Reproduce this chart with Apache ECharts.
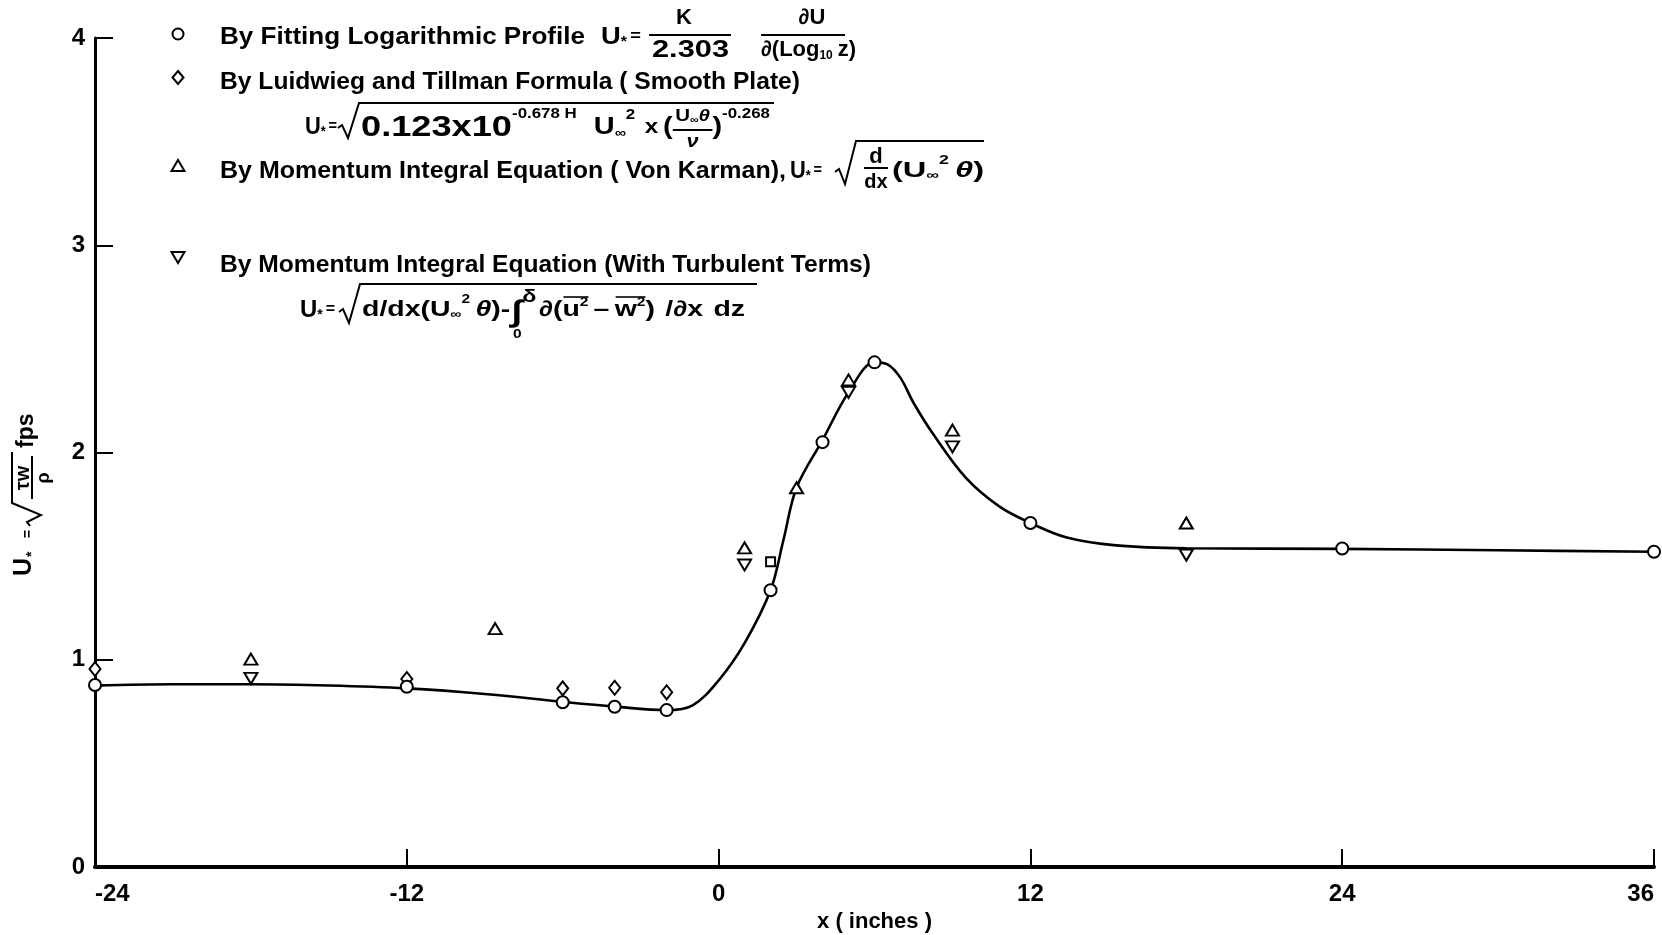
<!DOCTYPE html>
<html>
<head>
<meta charset="utf-8">
<script src="https://cdn.jsdelivr.net/npm/echarts@6/dist/echarts.min.js"></script>
<style>html,body{margin:0;padding:0;background:#fff;}#chart{width:1662px;height:935px;}</style>
</head>
<body>
<div id="chart"></div>
<script>
// ---------------- DATA ----------------
const xTicks = [-24, -12, 0, 12, 24, 36];
const yTicks = [0, 1, 2, 3, 4];

// smooth fitted curve
const curveX = [-24, -21, -18, -15, -12, -9, -6, -4, -2, -1, 0, 1, 2, 2.5, 3, 4, 5, 6, 6.5, 7, 7.5, 8.25, 9.5, 10.8, 12, 13.4, 15.3, 18, 24, 30, 36];
const curveY = [0.875, 0.882, 0.882, 0.876, 0.862, 0.835, 0.797, 0.774, 0.757, 0.78, 0.9, 1.08, 1.335, 1.58, 1.83, 2.06, 2.29, 2.435, 2.425, 2.36, 2.24, 2.09, 1.88, 1.74, 1.66, 1.59, 1.552, 1.538, 1.535, 1.528, 1.521];

// By Fitting Logarithmic Profile (circles)
const logX = [-24, -12, -6, -4, -2, 2, 4, 6, 12, 24, 36];
const logY = [0.878, 0.87, 0.795, 0.773, 0.757, 1.335, 2.05, 2.435, 1.66, 1.537, 1.521];

// By Ludwieg and Tillman Formula (diamonds)
const ltX = [-24, -12, -6, -4, -2];
const ltY = [0.955, 0.907, 0.862, 0.865, 0.843];

// By Momentum Integral Equation (Von Karman) (up triangles)
const vkX = [-18, -8.6, 1, 3, 5, 9, 18];
const vkY = [1.003, 1.15, 1.54, 1.83, 2.35, 2.108, 1.66];

// By Momentum Integral Equation with turbulent terms (down triangles)
const ttX = [-18, 1, 5, 9, 18];
const ttY = [0.91, 1.457, 2.29, 2.027, 1.505];

// odd square mark
const sqX = [2];
const sqY = [1.473];

// legend texts
const legendTexts = [
  'By Fitting Logarithmic Profile',
  'By Luidwieg and Tillman Formula ( Smooth Plate)',
  'By Momentum Integral Equation ( Von Karman),',
  'By Momentum Integral Equation (With Turbulent Terms)'
];

// ---------------- helpers ----------------
const FF = '"Liberation Sans", "DejaVu Sans", sans-serif';
const mctx = document.createElement('canvas').getContext('2d');
function fnt(size, st) { return ((st ? st + ' ' : '') + 'bold ' + size + 'px ' + FF); }
function tw(t, size, st) { mctx.font = fnt(size, st); return mctx.measureText(t).width; }
function mkT(x, y, t, size, o) {
  o = o || {};
  const al = o.align || 'left';
  return {type: 'text', x: x, y: y, z: 20, style: {text: t, font: fnt(size, o.st), fill: '#000',
    textAlign: al, align: al, textVerticalAlign: 'middle', verticalAlign: 'middle'}};
}
function mkL(x1, y1, x2, y2, lw) { return {type: 'line', z: 20, shape: {x1, y1, x2, y2}, style: {stroke: '#000', lineWidth: lw || 2}}; }
function mkP(pts, lw) { return {type: 'polyline', z: 20, shape: {points: pts}, style: {stroke: '#000', lineWidth: lw || 2, fill: null}}; }

const G = [];
function T(x, y, t, s, o) { G.push(mkT(x, y, t, s, o)); }
function Lin(x1, y1, x2, y2, lw) { G.push(mkL(x1, y1, x2, y2, lw)); }
function Poly(p, lw) { G.push(mkP(p, lw)); }

function run(x, y, pieces, f, draw) {
  f = f || 1;
  let cx = x;
  for (const p of pieces) {
    if (p.gap) cx += p.gap * f;
    if (p.frac) {
      const wn = run(0, 0, p.num, f, false), wd = run(0, 0, p.den, f, false);
      const W = Math.max(wn, wd) + 2 * (p.pad || 2) * f;
      if (draw) {
        run(cx + (W - wn) / 2, y + p.nd, p.num, f, true);
        run(cx + (W - wd) / 2, y + p.dd, p.den, f, true);
        Lin(cx, y + p.bd, cx + W, y + p.bd, 2);
      }
      cx += W;
    } else if (p.over) {
      const x0 = cx;
      cx = run(cx, y, p.over, f, draw);
      if (draw) Lin(x0 + 1, y + p.od, cx, y + p.od, 1.6);
    } else if (p.t != null) {
      const wdt = tw(p.t, p.s, p.st) * f;
      if (draw) {
        const e = mkT(cx + (p.dx || 0) * f, y + (p.dy || 0), p.t, p.s, {st: p.st});
        e.scaleX = f;
        G.push(e);
      }
      if (!p.noadv) cx += wdt;
    }
  }
  return cx;
}
function fitRun(x0, x1, y, pieces) {
  const e1 = run(x0, y, pieces, 1, false);
  const f = (x1 - x0) / (e1 - x0);
  return run(x0, y, pieces, f, true);
}
const Ustar = [{t: 'U', s: 24}, {t: '*', s: 14, dy: 5}, {gap: 3, t: '=', s: 16}];

// ---------------- legend / formulas ----------------
G.push({type: 'circle', z: 20, shape: {cx: 178, cy: 34, r: 5.5}, style: {fill: '#fff', stroke: '#000', lineWidth: 2}});
G.push({type: 'polygon', z: 20, shape: {points: [[178, 71], [183.5, 77.5], [178, 84], [172.5, 77.5]]}, style: {fill: '#fff', stroke: '#000', lineWidth: 2}});
G.push({type: 'polygon', z: 20, shape: {points: [[178, 160], [184.5, 171], [171.5, 171]]}, style: {fill: '#fff', stroke: '#000', lineWidth: 2}});
G.push({type: 'polygon', z: 20, shape: {points: [[171.5, 252], [184.5, 252], [178, 263]]}, style: {fill: '#fff', stroke: '#000', lineWidth: 2}});

// line 1
fitRun(220, 585, 37, [{t: legendTexts[0], s: 24}]);
fitRun(601, 641, 37, Ustar);
Lin(649, 35, 731, 35, 2);
T(684, 18, 'K', 22, {align: 'center'});
fitRun(652, 729, 50, [{t: '2.303', s: 24}]);
Lin(761, 35, 845, 35, 2);
T(812, 18, '∂U', 22, {align: 'center'});
fitRun(761, 856, 50, [{t: '∂(Log', s: 22}, {t: '10', s: 12, dy: 6}, {gap: 5, t: 'z)', s: 22}]);

// line 2
fitRun(220, 800, 82, [{t: legendTexts[1], s: 24}]);

// line 3
fitRun(305, 337, 127, Ustar);
Poly([[338, 128], [342, 125], [348, 138], [359, 103], [774, 103]], 2);
fitRun(361, 770, 127, [
  {t: '0.123x10', s: 30, dy: 1}, {t: '-0.678 H', s: 14, dy: -13},
  {gap: 14, t: 'U', s: 24}, {t: '∞', s: 13, dy: 6}, {t: '2', s: 14, dy: -12},
  {gap: 8, t: 'x', s: 20}, {gap: 4, t: '(', s: 24},
  {frac: true, num: [{t: 'U', s: 17}, {t: '∞', s: 10, dy: 4}, {t: 'θ', s: 17, st: 'italic'}],
    den: [{t: 'ν', s: 18, st: 'italic'}], nd: -11, dd: 15, bd: 3, pad: 2},
  {t: ')', s: 24}, {t: '-0.268', s: 14, dy: -13}
]);

// line 4
fitRun(220, 786, 171, [{t: legendTexts[2], s: 24}]);
fitRun(790, 822, 171, Ustar);
Poly([[835, 172], [839, 169], [845, 184], [856, 141], [984, 141]], 2);
T(876, 157, 'd', 22, {align: 'center'});
Lin(864, 168, 888, 168, 2);
T(876, 182, 'dx', 20, {align: 'center'});
fitRun(892, 984, 171, [{t: '(', s: 22}, {t: 'U', s: 22}, {t: '∞', s: 12, dy: 5}, {t: '2', s: 12, dy: -10},
  {gap: 4, t: 'θ', s: 22, st: 'italic'}, {t: ')', s: 22}]);

// line 5
fitRun(220, 871, 265, [{t: legendTexts[3], s: 24}]);

// line 6
fitRun(300, 335, 310, Ustar);
Poly([[339, 312], [343, 309], [349, 323], [360, 284], [757, 284]], 2);
fitRun(362, 745, 310, [
  {t: 'd/dx(U', s: 22}, {t: '∞', s: 12, dy: 5}, {t: '2', s: 12, dy: -10},
  {gap: 4, t: 'θ', s: 22, st: 'italic'}, {t: ')-', s: 22},
  {gap: 1, t: '∫', s: 30, dy: 3}, {t: '0', s: 12, dy: 25, dx: -7, noadv: true},
  {t: 'δ', s: 18, dy: -13},
  {gap: 2, t: '∂(', s: 22},
  {over: [{t: 'u', s: 22}, {t: '2', s: 12, dy: -7}], od: -13},
  {gap: 4, t: '–', s: 22}, {gap: 4},
  {over: [{t: 'w', s: 22}, {t: '2', s: 12, dy: -7}], od: -13},
  {t: ')', s: 22}, {gap: 8, t: '/∂x', s: 22}, {gap: 8, t: 'dz', s: 22}
]);

// y-axis title (rotated)
(function () {
  const ch = [];
  ch.push(mkT(0, 0, 'U', 25));
  ch.push(mkT(tw('U', 25) + 1, 8, '*', 14));
  ch.push(mkT(38, 4, '=', 14));
  ch.push(mkP([[50, 6], [54, 3], [61, 17], [73, -12], [124, -12]], 2));
  ch.push(mkT(98, -1, 'τw', 20, {align: 'center'}));
  ch.push(mkL(77, 8, 120, 8, 2));
  ch.push(mkT(98, 20, 'ρ', 18, {align: 'center'}));
  ch.push(mkT(128, 3, 'fps', 23));
  G.push({type: 'group', x: 24, y: 576, rotation: Math.PI / 2, children: ch});
})();

// ---------------- chart ----------------
const zip = (xs, ys) => xs.map((x, i) => [x, ys[i]]);
const labelStyle = {color: '#000', fontFamily: FF, fontWeight: 'bold', fontSize: 24};
const mark = {color: '#fff', borderColor: '#000', borderWidth: 2, opacity: 1};

const chart = echarts.init(document.getElementById('chart'), null, {renderer: 'canvas'});
chart.setOption({
  animation: false,
  backgroundColor: '#fff',
  grid: {left: 95, right: 8, top: 38, bottom: 68, containLabel: false, outerBoundsMode: 'none'},
  xAxis: {
    type: 'value', min: xTicks[0], max: xTicks[xTicks.length - 1], interval: 12,
    axisLine: {onZero: false, lineStyle: {color: '#000', width: 4}},
    axisTick: {show: true, inside: true, length: 18, lineStyle: {color: '#000', width: 2}},
    axisLabel: Object.assign({margin: 15, alignMinLabel: 'left', alignMaxLabel: 'right'}, labelStyle),
    splitLine: {show: false},
    name: 'x ( inches )', nameLocation: 'middle', nameGap: 40,
    nameTextStyle: {color: '#000', fontFamily: FF, fontWeight: 'bold', fontSize: 22}
  },
  yAxis: {
    type: 'value', min: yTicks[0], max: yTicks[yTicks.length - 1], interval: 1,
    axisLine: {show: true, onZero: false, lineStyle: {color: '#000', width: 3}},
    axisTick: {show: true, inside: true, length: 18, lineStyle: {color: '#000', width: 2}},
    axisLabel: Object.assign({margin: 10}, labelStyle),
    splitLine: {show: false}
  },
  series: [
    {type: 'line', data: zip(curveX, curveY), smooth: 0.35, symbol: 'none', showSymbol: false,
      lineStyle: {color: '#000', width: 2.6}, z: 2, silent: true},
    {type: 'scatter', data: zip(ltX, ltY), symbol: 'diamond', symbolSize: [11, 14], itemStyle: mark, z: 3},
    {type: 'scatter', data: zip(vkX, vkY), symbol: 'triangle', symbolSize: [13, 11], itemStyle: mark, z: 3},
    {type: 'scatter', data: zip(ttX, ttY), symbol: 'triangle', symbolRotate: 180, symbolSize: [13, 11], itemStyle: mark, z: 3},
    {type: 'scatter', data: zip(sqX, sqY), symbol: 'rect', symbolSize: 9, itemStyle: mark, z: 3},
    {type: 'scatter', data: zip(logX, logY), symbol: 'circle', symbolSize: 12, itemStyle: mark, z: 4}
  ],
  graphic: G
});
</script>
</body>
</html>
